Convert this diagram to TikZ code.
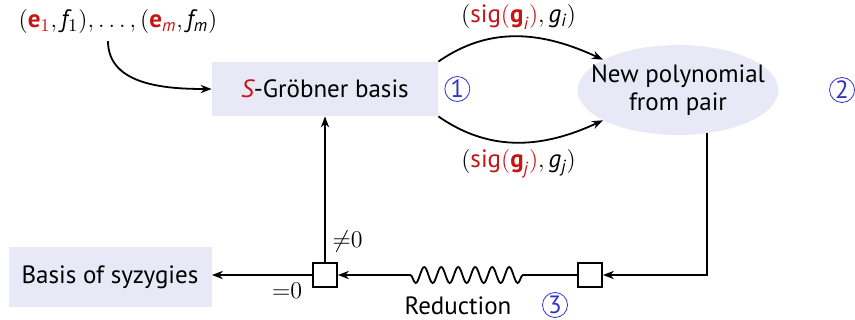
\documentclass[tikz,border=0pt]{standalone}
\usepackage{amsmath}
\usepackage{fontspec}
\setmainfont{PT Sans}
\newfontfamily\mathletters{PT Sans}[NFSSFamily=ptsansmath]
\DeclareSymbolFont{sfit}{TU}{ptsansmath}{m}{it}
\DeclareSymbolFont{sfup}{TU}{ptsansmath}{m}{n}
\DeclareMathSymbol{f}{\mathalpha}{sfit}{`f}
\DeclareMathSymbol{g}{\mathalpha}{sfit}{`g}
\DeclareMathSymbol{i}{\mathalpha}{sfit}{`i}
\DeclareMathSymbol{j}{\mathalpha}{sfit}{`j}
\DeclareMathSymbol{m}{\mathalpha}{sfit}{`m}
\DeclareMathSymbol{S}{\mathalpha}{sfit}{`S}
\DeclareMathSymbol{1}{\mathalpha}{sfup}{`1}
\usetikzlibrary{arrows.meta,positioning,shapes.geometric,decorations.pathmorphing}
\definecolor{boxbg}   {RGB}{232,232,246}
\definecolor{sigred}  {RGB}{200, 20, 20}
\definecolor{stepblue}{RGB}{ 50, 50,200}
\newcommand{\bvec}[1]{\text{\bfseries #1}}
\newcommand{\sigpair}[1]{(\textcolor{sigred}{\text{sig}(\bvec{g}_{#1})}, g_{#1})}

\begin{document}
\begin{tikzpicture}[
    x=0.5pt, y=-0.5pt,
    font=\fontsize{12.5}{14}\selectfont,
    block/.style={fill=boxbg, minimum width=113pt, minimum height=27pt, inner sep=2pt},
    pairnode/.style={ellipse, fill=boxbg, minimum width=100pt, minimum height=45pt, align=center, inner xsep=-8pt, inner ysep=-3pt},
    junction/.style={draw, fill=white, minimum size=12pt, inner sep=0pt, line width=0.9pt},
    stepmark/.style={circle, draw=stepblue, text=stepblue, minimum size=12.5pt, inner sep=0pt},
    arrow/.style={-{Stealth[length=5.5pt]}, line width=0.9pt}
]
    \useasboundingbox (0,0) rectangle (855,320);
    \node (input) at (118,22) {$(\textcolor{sigred}{\bvec{e}_1}, f_1), \dots, (\textcolor{sigred}{\bvec{e}_m}, f_m)$};
    \node[block] (basis) at (325,89) {\textcolor{sigred}{$S$}-Gröbner basis};
    \node[stepmark, right=3pt of basis] (one) {1};
    \node[pairnode] (pair) at (678,90) {New polynomial\\from pair};
    \node[stepmark] (two) at (842,90) {2};
    \node[junction] (split) at (325,275) {};
    \node[junction] (entry) at (590,275) {};
    \node[block, minimum width=101.5pt, minimum height=30pt] (syz) at (110,277) {Basis of syzygies};
    \coordinate (wavestart) at (523,275);
    \coordinate (waveend) at (403,275);
    \node[inner sep=1pt] (reduction) at (458,306) {Reduction};
    \node[stepmark] (three) at (555,305) {3};

    \draw[arrow] ([xshift=-5pt]input.south) to[out=-90, in=180] (basis.west);
    \draw[arrow] (basis.north east) to[out=35, in=155] node[midway, above=0pt] {$\sigpair{i}$} (pair.158);
    \draw[arrow] (basis.south east) to[out=-35, in=-155] node[midway, below=0pt] {$\sigpair{j}$} (pair.-158);
    \draw[arrow] (pair.-56) |- (entry);
    \draw[arrow] (entry) -- (wavestart)
        decorate[decoration={snake, segment length=8.5pt, amplitude=4pt}] {-- (waveend)} -- (split);
    \draw[arrow] (split) -- node[pos=0.14, right] {${\neq}0$} (basis);
    \draw[arrow] (split) -- node[pos=0.25, below] {${=}0$} (syz.east |- split);
\end{tikzpicture}
\end{document}
